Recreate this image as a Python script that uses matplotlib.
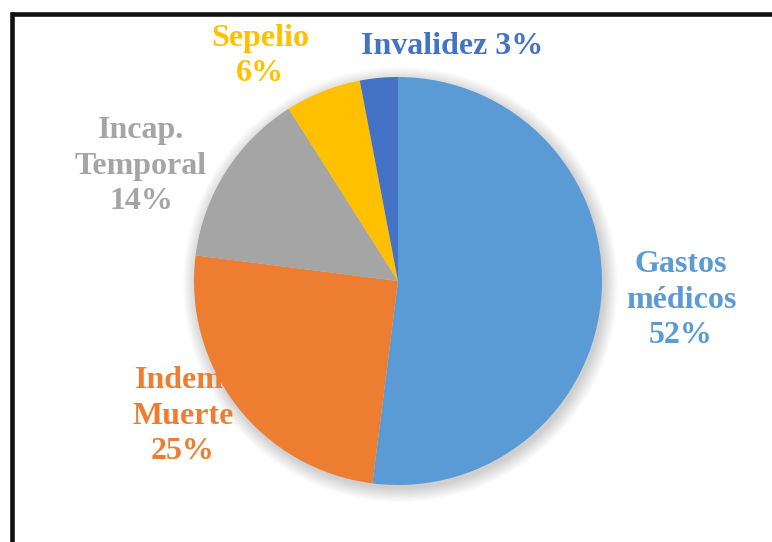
import matplotlib.pyplot as plt
from matplotlib.lines import Line2D
from matplotlib.patches import Circle

# gastos por tipo de prestación (%)
categorias = ["Gastos\nmédicos", "Indem.\nMuerte", "Incap.\nTemporal", "Sepelio", "Invalidez"]
porcentajes = [52, 25, 14, 6, 3]
colores = ["#5B9BD5", "#ED7D31", "#A5A5A5", "#FFC000", "#4472C4"]

# posición de cada etiqueta (pixeles de la figura, origen arriba a la izquierda)
pos_etiquetas = [(681, 300), (183, 416), (141, 166), (260, 56), (452, 46)]
sep_etiqueta = ["\n", "\n", "\n", "\n", " "]

W, H = 772, 542
fig = plt.figure(figsize=(W / 100, H / 100), dpi=100)

cx, cy, r = 398, 281, 204
ax = fig.add_axes([(cx - r) / W, (H - cy - r) / H, 2 * r / W, 2 * r / H])
ax.set_xlim(-1, 1)
ax.set_ylim(-1, 1)
ax.set_aspect("equal")
ax.axis("off")

# sombra suave del pastel
for k in range(12):
    ax.add_patch(Circle((0.012, -0.018), 1.0 + k * 0.006, color="black",
                        alpha=0.016, lw=0, zorder=0.2, clip_on=False))

ax.pie(porcentajes, colors=colores, startangle=90, counterclock=False,
       radius=1.0, wedgeprops=dict(linewidth=0, zorder=1))
ax.set_xlim(-1, 1)
ax.set_ylim(-1, 1)

for cat, val, col, (px, py), sep in zip(categorias, porcentajes, colores,
                                        pos_etiquetas, sep_etiqueta):
    ax.text(px / W, 1 - py / H, f"{cat}{sep}{val}%", transform=fig.transFigure,
            ha="center", va="center", color=col, fontsize=23,
            fontweight="bold", family="Liberation Serif", linespacing=1.3,
            zorder=0.5)

# marco
lw = 3.3
fig.add_artist(Line2D([12 / W, 1.0], [1 - 14 / H, 1 - 14 / H], color="#111111",
                      lw=lw, solid_capstyle="butt"))
fig.add_artist(Line2D([12 / W, 12 / W], [0.0, 1 - 14 / H], color="#111111",
                      lw=lw, solid_capstyle="projecting"))

fig.savefig("out.png", dpi=100)
